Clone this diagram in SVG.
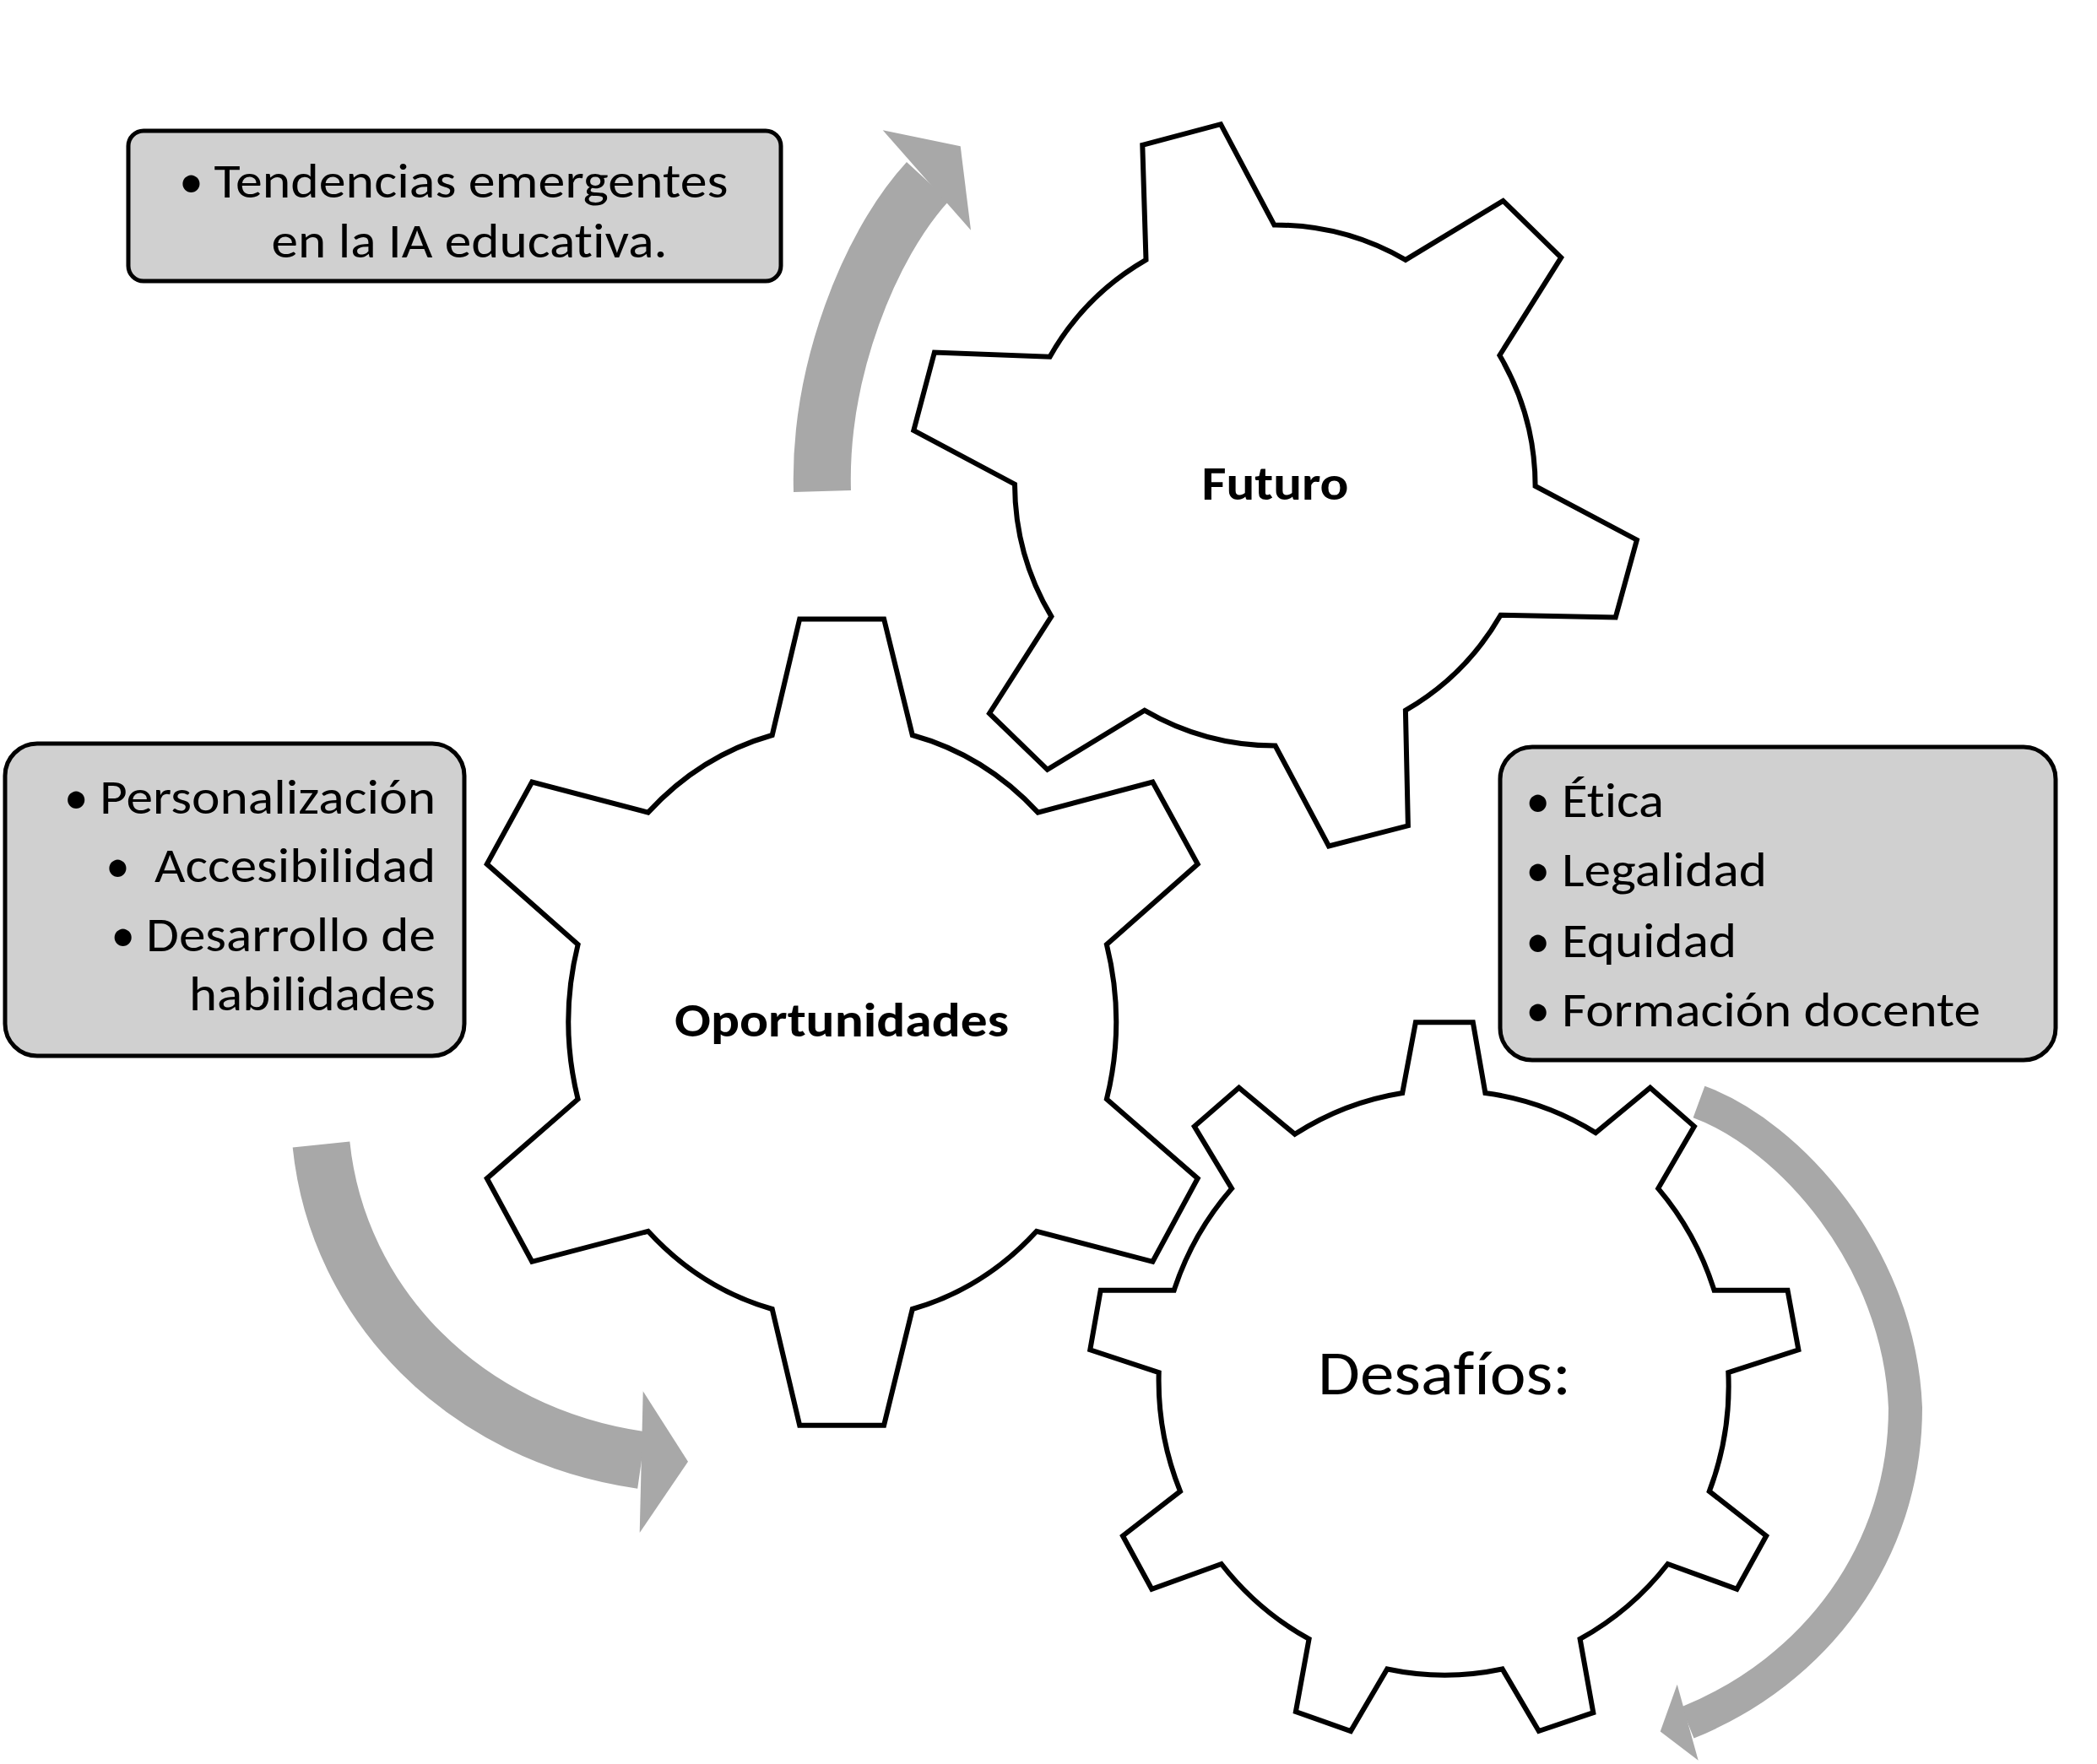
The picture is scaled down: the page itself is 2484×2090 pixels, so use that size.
<svg xmlns="http://www.w3.org/2000/svg" width="2484" height="2090" viewBox="0 0 2484 2090">
<style>
.gear{fill:#ffffff;stroke:#000000;stroke-width:6;stroke-linejoin:miter}
.box{fill:#d0d0d0;stroke:#000000;stroke-width:5}
.t{font-family:Calibri,Carlito,Lato,"Liberation Sans",sans-serif;font-size:57px;fill:#000000;font-variant-ligatures:none;font-feature-settings:"liga" 0,"clig" 0}
.b{font-weight:bold}
.shaft{fill:none;stroke:#a8a8a8;stroke-linecap:butt}
.head{fill:#a8a8a8}
</style>
<rect x="0" y="0" width="2484" height="2090" fill="#ffffff"/>

<g id="gear-futuro">
<path class="gear" d="M 1353.3 171.9 L 1446 147.2 L 1509.4 266.6 A 308 308 0 0 1 1664.9 307.9 L 1780.5 237.9 L 1849.2 305.1 L 1776.4 421 A 308 308 0 0 1 1818.6 576 L 1938.9 639.7 L 1913.7 731.5 L 1777.6 728.7 A 308 308 0 0 1 1664.9 841.7 L 1667.9 978.3 L 1574 1002.5 L 1510.6 883.6 A 308 308 0 0 1 1355.7 841.7 L 1240.7 911.8 L 1172 845.2 L 1245.4 730.4 A 308 308 0 0 1 1202 573.7 L 1082.3 510 L 1106.9 417.6 L 1243.6 422.7 A 308 308 0 0 1 1357.5 307.9 Z"/>
<text class="t b" x="1510.5" y="592" text-anchor="middle" textLength="174" lengthAdjust="spacingAndGlyphs">Futuro</text>
</g>

<g id="gear-oportunidades">
<path class="gear" d="M 947.2 733.4 L 1047.1 733.4 L 1080.8 871 A 324 352 0 0 1 1229.5 962.6 L 1365.4 926.6 L 1418.7 1023.8 L 1310.9 1119.1 A 324 352 0 0 1 1310.9 1302.3 L 1418.7 1396.3 L 1365.4 1494.8 L 1227.9 1458.8 A 324 352 0 0 1 1080.8 1551 L 1047.1 1688.7 L 947.2 1688.7 L 914.7 1551 A 324 352 0 0 1 767.7 1458.8 L 630.2 1494.8 L 576.8 1396.3 L 684.6 1302.3 A 324 352 0 0 1 684.6 1119.1 L 576.8 1023.8 L 630.2 926.6 L 767.7 962.6 A 324 352 0 0 1 914.7 871 Z"/>
<text class="t b" x="997" y="1228" text-anchor="middle" textLength="396" lengthAdjust="spacingAndGlyphs">Oportunidades</text>
</g>

<g id="gear-desafios">
<path class="gear" d="M 1676.9 1211.2 L 1744.8 1211.2 L 1759.4 1295 A 337 345 0 0 1 1890.2 1342.1 L 1954.7 1288.7 L 2006.9 1334.6 L 1964.2 1408.1 A 337 345 0 0 1 2030.5 1528.7 L 2117.5 1528.7 L 2130.4 1599.3 L 2047.3 1626.2 A 337 345 0 0 1 2024.8 1766.9 L 2092.2 1819.7 L 2057.4 1882.8 L 1975.5 1853 A 337 345 0 0 1 1871.6 1941.9 L 1887.3 2029.2 L 1822.8 2051 L 1779.6 1977.5 A 337 345 0 0 1 1643.2 1977.5 L 1600 2051 L 1534.9 2028 L 1550.6 1941.9 A 337 345 0 0 1 1446.8 1853 L 1364.3 1882.8 L 1330 1819.7 L 1398 1766.9 A 337 345 0 0 1 1372.7 1626.2 L 1291.3 1599.3 L 1303.7 1528.7 L 1390.7 1528.7 A 337 345 0 0 1 1459.1 1408.1 L 1414.8 1334.6 L 1467.6 1288.7 L 1533.8 1343.8 A 337 345 0 0 1 1661.2 1295 Z"/>
<text class="t" x="1711" y="1652" style="font-size:73px" text-anchor="middle" textLength="300" lengthAdjust="spacingAndGlyphs">Desafíos:</text>
</g>

<g id="box-tendencias">
<rect class="box" x="152" y="155" width="773" height="178" rx="18" ry="18"/>
<text class="t" x="226.5" y="234" text-anchor="middle">•</text>
<text class="t" x="253.5" y="234" textLength="609" lengthAdjust="spacingAndGlyphs">Tendencias emergentes</text>
<text class="t" x="321.6" y="305" textLength="469" lengthAdjust="spacingAndGlyphs">en la IA educativa.</text>
</g>

<g id="box-oportunidades">
<rect class="box" x="6" y="881" width="544" height="370" rx="38" ry="38"/>
<text class="t" x="90.3" y="964" text-anchor="middle">•</text>
<text class="t" x="118" y="964" textLength="398" lengthAdjust="spacingAndGlyphs">Personalización</text>
<text class="t" x="139.4" y="1045" text-anchor="middle">•</text>
<text class="t" x="183" y="1045" textLength="333" lengthAdjust="spacingAndGlyphs">Accesibilidad</text>
<text class="t" x="145.7" y="1127" text-anchor="middle">•</text>
<text class="t" x="173" y="1127" textLength="343" lengthAdjust="spacingAndGlyphs">Desarrollo de</text>
<text class="t" x="224" y="1197" textLength="292" lengthAdjust="spacingAndGlyphs">habilidades</text>
</g>

<g id="box-desafios">
<rect class="box" x="1777" y="885" width="658" height="371" rx="38" ry="38"/>
<text class="t" x="1821.8" y="968" text-anchor="middle">•</text>
<text class="t" x="1850" y="968" textLength="121" lengthAdjust="spacingAndGlyphs">Ética</text>
<text class="t" x="1821.8" y="1050" text-anchor="middle">•</text>
<text class="t" x="1850" y="1050" textLength="243" lengthAdjust="spacingAndGlyphs">Legalidad</text>
<text class="t" x="1821.8" y="1134" text-anchor="middle">•</text>
<text class="t" x="1850" y="1134" textLength="207" lengthAdjust="spacingAndGlyphs">Equidad</text>
<text class="t" x="1821.8" y="1216" text-anchor="middle">•</text>
<text class="t" x="1850" y="1216" textLength="496" lengthAdjust="spacingAndGlyphs">Formación docente</text>
</g>

<g id="connectors">
<g id="arrow-to-futuro">
<path class="shaft" stroke-width="68" d="M 974 582 C 970 440, 1030 290, 1099 215"/>
<polygon class="head" points="1045.7,154.3 1137.7,173.3 1150,272.7"/>
</g>
<g id="arrow-to-oportunidades">
<path class="shaft" stroke-width="68" d="M 380.5 1356 C 400 1545, 550 1700, 760 1730"/>
<polygon class="head" points="761.7,1648.3 815,1731.7 757.7,1816"/>
</g>
<g id="arrow-from-desafios">
<path class="shaft" stroke-width="40" d="M 2012.5 1305.5 C 2120 1345, 2250 1490, 2257 1668 C 2257 1840, 2150 1980, 1999 2041"/>
<polygon class="head" points="1986.7,1995.8 1966.7,2051.4 2011.7,2085.8"/>
</g>
</g>
</svg>
